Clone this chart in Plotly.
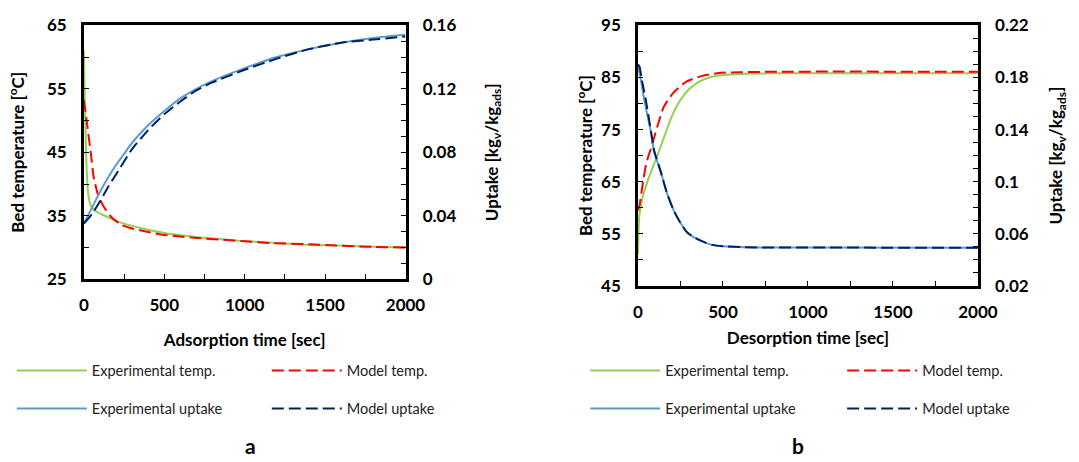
import plotly.graph_objects as go

# ---------------- Panel a : adsorption ----------------
ads_t_exp_temp = [0, 4, 10, 16, 25, 40, 60, 90, 130, 200, 300, 400, 500, 650, 800, 1000, 1200, 1400, 1600, 1800, 2000]
ads_exp_temp = [61.0, 55.5, 49.5, 43.5, 39.0, 36.8, 36.0, 35.5, 35.0, 34.2, 33.4, 32.8, 32.3, 31.8, 31.4, 31.0, 30.7, 30.4, 30.3, 30.1, 30.0]

ads_t_mod_temp = [0, 10, 20, 30, 42, 62, 92, 132, 171, 231, 300, 371, 470, 570, 700, 869, 1000, 1168, 1400, 1567, 1800, 2000]
ads_mod_temp = [53.2, 51.5, 49.5, 47.5, 45.2, 41.0, 38.0, 36.1, 34.8, 33.6, 33.0, 32.6, 32.1, 31.8, 31.5, 31.2, 31.0, 30.7, 30.5, 30.3, 30.1, 30.0]

ads_t_exp_up = [0, 30, 60, 100, 150, 200, 250, 300, 400, 500, 600, 700, 800, 1000, 1200, 1400, 1600, 1800, 2000]
ads_exp_up = [0.035, 0.041, 0.047, 0.055, 0.064, 0.072, 0.079, 0.086, 0.097, 0.106, 0.114, 0.120, 0.125, 0.133, 0.140, 0.145, 0.149, 0.152, 0.154]

ads_t_mod_up = [0, 50, 100, 150, 200, 300, 400, 500, 600, 700, 800, 1000, 1200, 1400, 1600, 1800, 2000]
ads_mod_up = [0.035, 0.041, 0.049, 0.058, 0.066, 0.082, 0.094, 0.104, 0.112, 0.119, 0.124, 0.132, 0.139, 0.145, 0.149, 0.151, 0.153]

# ---------------- Panel b : desorption ----------------
des_t_exp_temp = [0, 3, 8, 28, 66, 114, 151, 190, 230, 270, 310, 360, 420, 490, 560, 650, 800, 1000, 2000]
des_exp_temp = [51.0, 55.0, 58.5, 62.1, 66.0, 70.0, 73.3, 76.8, 79.6, 81.6, 83.0, 84.2, 85.0, 85.4, 85.6, 85.7, 85.8, 85.8, 85.8]

des_t_mod_temp = [0, 9, 28, 47, 66, 76, 114, 151, 209, 285, 379, 493, 600, 800, 2000]
des_mod_temp = [59.5, 60.5, 64.6, 68.2, 70.4, 71.3, 75.6, 79.3, 82.1, 84.2, 85.3, 85.9, 86.0, 86.1, 86.1]

des_t_exp_up = [0, 20, 38, 76, 95, 133, 171, 210, 247, 290, 342, 400, 436, 500, 626, 800, 1000, 2000]
des_exp_up = [0.190, 0.176, 0.162, 0.138, 0.123, 0.108, 0.091, 0.078, 0.069, 0.061, 0.0564, 0.053, 0.0515, 0.0505, 0.0497, 0.0495, 0.0494, 0.0493]

des_t_mod_up = [0, 10, 20, 47, 76, 95, 133, 171, 210, 247, 290, 342, 400, 436, 500, 626, 800, 2000]
des_mod_up = [0.190, 0.188, 0.180, 0.162, 0.139, 0.124, 0.108, 0.091, 0.078, 0.069, 0.061, 0.0564, 0.053, 0.0515, 0.0505, 0.0497, 0.0495, 0.0493]

series_names = ["Experimental temp.", "Model temp.", "Experimental uptake", "Model uptake"]
panel_labels = ["a", "b"]

GREEN = "#92D050"
RED = "#FF0000"
LBLUE = "#5B9BD5"
NAVY = "#002060"
DASH = "12px,5px"
FONT = "Lato, 'Open Sans', Arial, sans-serif"

W, H = 1079, 462


def px_x(v):
    return v / W


def px_y(v):
    return 1 - v / H


fig = go.Figure()

def add(x, y, name, color, dash, xa, ya, legend, group):
    fig.add_trace(go.Scatter(
        x=x, y=y, name=name, mode="lines",
        line=dict(color=color, width=2, dash=dash, shape="spline", smoothing=0.6),
        xaxis=xa, yaxis=ya, legend=legend, legendgroup=group, showlegend=True,
    ))

add(ads_t_exp_temp, ads_exp_temp, series_names[0], GREEN, "solid", "x", "y", "legend", "a1")
add(ads_t_mod_temp, ads_mod_temp, series_names[1], RED, DASH, "x", "y", "legend2", "a2")
add(ads_t_exp_up, ads_exp_up, series_names[2], LBLUE, "solid", "x", "y2", "legend", "a3")
add(ads_t_mod_up, ads_mod_up, series_names[3], NAVY, DASH, "x", "y2", "legend2", "a4")

add(des_t_exp_temp, des_exp_temp, series_names[0], GREEN, "solid", "x2", "y3", "legend3", "b1")
add(des_t_mod_temp, des_mod_temp, series_names[1], RED, DASH, "x2", "y3", "legend4", "b2")
add(des_t_exp_up, des_exp_up, series_names[2], LBLUE, "solid", "x2", "y4", "legend3", "b3")
add(des_t_mod_up, des_mod_up, series_names[3], NAVY, DASH, "x2", "y4", "legend4", "b4")

tickfont = dict(family=FONT, size=17, color="black", weight="bold")
titlefont = dict(family=FONT, size=17, color="black", weight="bold")

def xax(domain, anchor, title, standoff=12):
    return dict(
        domain=domain, anchor=anchor, range=[0, 2000], dtick=500, tick0=0,
        ticks="inside", ticklen=5, tickwidth=1.2, tickcolor="black",
        minor=dict(dtick=250, ticks="inside", ticklen=5, tickwidth=1.2, tickcolor="black"),
        showline=True, linewidth=2.5, linecolor="black", mirror=True,
        showgrid=False, zeroline=False, tickfont=tickfont, ticklabelstandoff=9,
        title=dict(text=title, font=titlefont, standoff=standoff),
    )

def yax(domain, anchor, rng, dtick, minor, title, side="left", overlaying=None, tick0=None, standoff=14):
    d = dict(
        domain=domain, anchor=anchor, range=rng, dtick=dtick, side=side,
        ticks="inside", ticklen=5, tickwidth=1.2, tickcolor="black",
        minor=dict(dtick=minor, ticks="inside", ticklen=5, tickwidth=1.2, tickcolor="black"),
        showline=True, linewidth=2.5, linecolor="black",
        showgrid=False, zeroline=False, tickfont=tickfont, ticklabelstandoff=11,
        title=dict(text=title, font=titlefont, standoff=standoff),
    )
    if tick0 is not None:
        d["tick0"] = tick0
    if overlaying:
        d["overlaying"] = overlaying
    return d

xa_dom = [px_x(80.7), px_x(410)]
xb_dom = [px_x(648), px_x(996)]
ya_dom = [px_y(281), px_y(15)]
yb_dom = [px_y(288), px_y(15)]

temp_title = "Bed temperature [<sup>o</sup>C]"
up_title = "Uptake [kg<sub>v</sub>/kg<sub>ads</sub>]"

legend_common = dict(
    xanchor="left", yanchor="top", orientation="v",
    font=dict(family=FONT, size=14.5, color="#222"),
    bgcolor="rgba(0,0,0,0)", itemwidth=70, tracegroupgap=16,
    traceorder="grouped",
)

fig.update_layout(
    width=W, height=H,
    margin=dict(l=0, r=0, t=0, b=0),
    paper_bgcolor="white", plot_bgcolor="white",
    xaxis=xax(xa_dom, "y", "Adsorption time [sec]", standoff=20),
    yaxis=yax(ya_dom, "x", [25, 65], 10, 5, temp_title, tick0=25, standoff=18),
    yaxis2=yax(ya_dom, "x", [0, 0.16], 0.04, 0.01, up_title, side="right", overlaying="y", tick0=0, standoff=31),
    xaxis2=xax(xb_dom, "y3", "Desorption time [sec]", standoff=12),
    yaxis3=yax(yb_dom, "x2", [45, 95], 10, 5, temp_title, tick0=45, standoff=5),
    yaxis4=yax(yb_dom, "x2", [0.02, 0.22], 0.04, 0.01, up_title, side="right", overlaying="y3", tick0=0.02, standoff=23),
    legend=dict(x=px_x(7), y=px_y(360), **legend_common),
    legend2=dict(x=px_x(268), y=px_y(360), **legend_common),
    legend3=dict(x=px_x(594), y=px_y(360), **legend_common),
    legend4=dict(x=px_x(857), y=px_y(360), **legend_common),
    annotations=[
        dict(text=panel_labels[0], x=px_x(251), y=px_y(455), xref="paper", yref="paper",
             xanchor="center", yanchor="middle", showarrow=False,
             font=dict(family=FONT, size=21, color="black", weight="bold")),
        dict(text=panel_labels[1], x=px_x(812), y=px_y(455), xref="paper", yref="paper",
             xanchor="center", yanchor="middle", showarrow=False,
             font=dict(family=FONT, size=21, color="black", weight="bold")),
    ],
)

fig.write_html("out.html")
